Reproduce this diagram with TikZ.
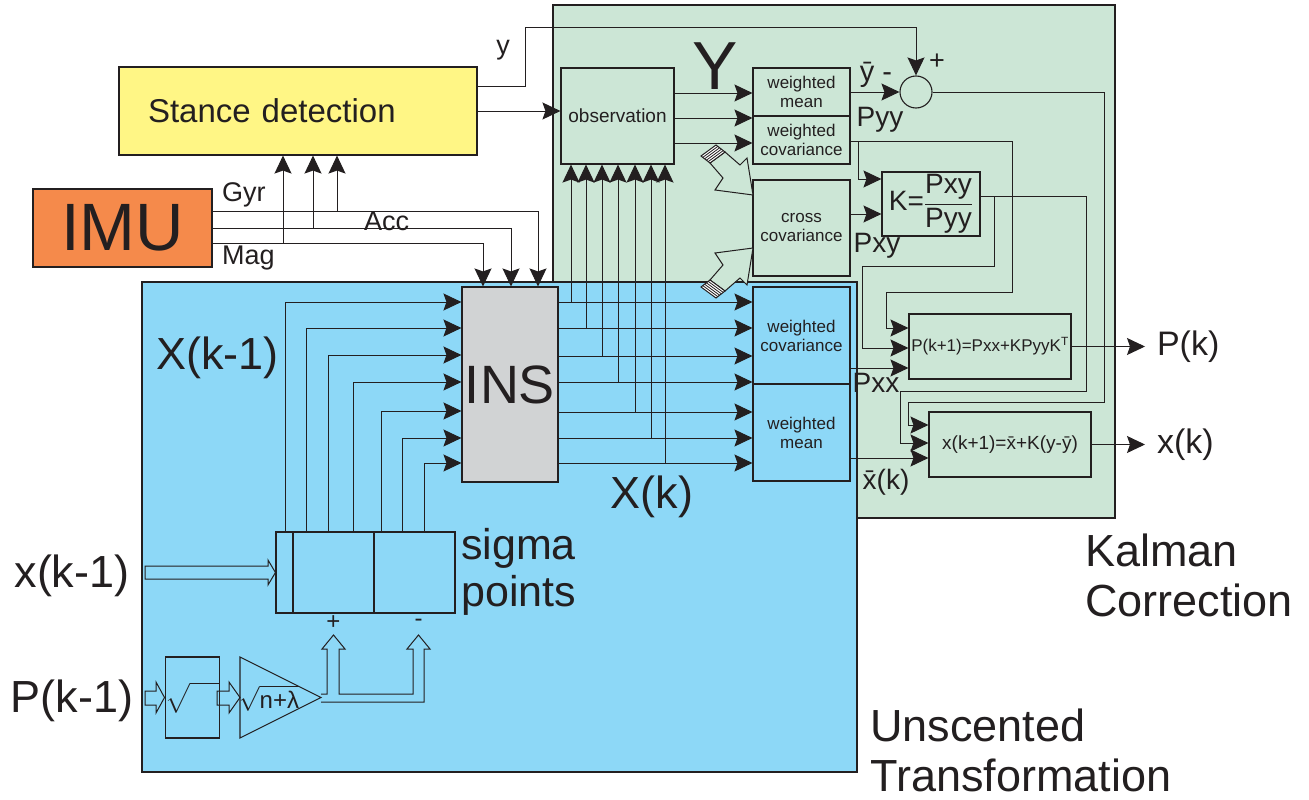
\documentclass[tikz,border=0pt]{standalone}
\usepackage{fontspec}
\setmainfont{Liberation Sans}
\usepackage{amsmath}
\usetikzlibrary{arrows.meta}

\definecolor{kalgreen}{HTML}{CCE6D6}
\definecolor{utblue}{HTML}{8DD8F7}
\definecolor{stanceyellow}{HTML}{FFF685}
\definecolor{imuorange}{HTML}{F58A4B}
\definecolor{insgray}{HTML}{D1D3D4}
\definecolor{ink}{HTML}{231F20}

\newcommand{\txtsize}[2]{\fontsize{#1}{#2}\selectfont}

\tikzset{
  blk/.style={draw=ink, line width=1.1pt, inner sep=0pt, align=center},
  lbl/.style={inner sep=0pt, align=left},
  wire/.style={draw=ink, line width=1pt},
  arr/.style={wire, -{Stealth[length=18pt, width=17pt, inset=3pt]}},
  pipe/.style={draw=ink, line width=1pt, line join=miter},
}

\begin{document}
\begin{tikzpicture}[x=1pt, y=-1pt, text=ink]
  \useasboundingbox (0,0) rectangle (1309,800);

  % panels
  \node[blk, fill=kalgreen, minimum width=562, minimum height=513] (kal) at (834,261.5) {};
  \node[blk, fill=utblue, minimum width=715, minimum height=490] (ut) at (499.5,527) {};

  % blocks
  \node[blk, fill=stanceyellow, minimum width=358, minimum height=88, text width=300,
        align=left, font=\txtsize{33}{36}] (stance) at (298,111) {Stance detection};
  \node[blk, fill=imuorange, minimum width=179, minimum height=78,
        font=\txtsize{67}{70}] (imu) at (122.5,228) {IMU};
  \node[blk, minimum width=113, minimum height=96, font=\txtsize{19}{21}] (obs) at (617.5,116) {observation};
  \node[blk, minimum width=97, minimum height=48, font=\txtsize{17}{19}] (wmY) at (801.5,92) {weighted\\mean};
  \node[blk, minimum width=97, minimum height=48, font=\txtsize{17}{19}] (wcY) at (801.5,140) {weighted\\covariance};
  \node[blk, minimum width=97, minimum height=96, font=\txtsize{17}{19}] (cross) at (801.5,228) {cross\\covariance};
  \node[blk, minimum width=98, minimum height=64, font=\txtsize{28}{30}] (kb) at (931,204)
       {K=$\dfrac{\text{Pxy}}{\text{Pyy}}$};
  \node[blk, circle, minimum size=32] (sum) at (916,92) {};
  \node[blk, minimum width=162, minimum height=65, font=\txtsize{17}{19}] (pb) at (990,346.5)
       {P(k+1)=Pxx+KPyyK\textsuperscript{T}};
  \node[blk, minimum width=162, minimum height=65, font=\txtsize{19}{21}] (xb) at (1010,444.5)
       {x(k+1)=\=x+K(y-\=y)};
  \node[blk, fill=insgray, minimum width=96, minimum height=195, font=\txtsize{54}{58}] (ins) at (510,384.5) {INS};
  \node[blk, minimum width=97, minimum height=97, font=\txtsize{17}{19}] (wcX) at (801.5,335.5) {weighted\\covariance};
  \node[blk, minimum width=97, minimum height=97, font=\txtsize{17}{19}] (wmX) at (801.5,432.5) {weighted\\mean};
  \node[blk, minimum width=179, minimum height=81] (sigma) at (365.5,572.5) {};
  \draw[blk] (sigma.north -| 293,0) -- (sigma.south -| 293,0);
  \draw[blk] (sigma.north -| 374,0) -- (sigma.south -| 374,0);
  \node[blk, minimum width=49, minimum height=81, font=\txtsize{24}{26}] (sqrtb) at (192.5,697.5)
       {$\sqrt{\vphantom{(}\hspace{30pt}}$};
  \draw[blk] (240,657) -- (240,738) -- (321,697.5) coordinate (gtip) -- cycle;
  \coordinate (gin) at (240,697.5);
  \node[lbl, font=\txtsize{24}{26}] (gainl) at (269,698) {$\sqrt{\text{n+λ}}$};

  % IMU and stance detection
  \coordinate (tapGyr) at (337,211);
  \coordinate (tapAcc) at (313,228);
  \coordinate (tapMag) at (283,243);
  \draw[arr] (imu.east |- tapGyr) -| (ins.north -| 538,0);
  \draw[arr] (imu.east |- tapAcc) -| (ins.north -| 511,0);
  \draw[arr] (imu.east |- tapMag) -| (ins.north -| 483,0);
  \foreach \tap in {tapGyr,tapAcc,tapMag}
    \draw[arr] (\tap) -- (stance.south -| \tap);
  \draw[arr] (stance.east |- 0,111) -- (obs.west |- 0,111);
  \draw[arr] (stance.east |- 0,86) -| (525,28) -| (sum.north);

  % sigma points into INS
  \foreach \xx/\yy in {285/302,306/328,328/355,353/382,381/411,402/438,424/463}
    \draw[arr] (sigma.north -| \xx,0) |- (ins.west |- 0,\yy);

  % INS outputs
  \foreach \yy in {302,328,356,382}
    \draw[arr] (ins.east |- 0,\yy) -- (wcX.west |- 0,\yy);
  \foreach \yy in {412,438,463}
    \draw[arr] (ins.east |- 0,\yy) -- (wmX.west |- 0,\yy);
  \foreach \xx/\yy in {571/302,586/328,602/356,618/382,635/412,651/438,665/463}
    \draw[arr] (\xx,\yy) -- (obs.south -| \xx,0);

  % observation outputs
  \draw[arr] (obs.east |- 0,93) -- (wmY.west |- 0,93);
  \draw[arr] (obs.east |- 0,118) -- (wcY.west |- 0,118);
  \draw[arr] (obs.east |- 0,143) -- (wcY.west |- 0,143);
  \draw[arr] (wmY.east) -- (sum.west);

  % Kalman gain and update
  \draw[arr] (wcY.east |- 0,141) -| (1012,292) -| (886,328) -- (pb.west |- 0,328);
  \draw[arr] (858,141) |- (kb.west |- 0,179);
  \draw[arr] (cross.east |- 0,214) -- (kb.west |- 0,214);
  \draw[arr] (kb.east |- 0,196) -| (1086,391) -| (900,443) -- (xb.west |- 0,443);
  \draw[arr] (994,196) |- (862,266) |- (pb.west |- 0,348);
  \draw[arr] (sum.east) -| (1104,402) -| (908,425) -- (xb.west |- 0,425);
  \draw[arr] (wcX.east |- 0,368) -- (pb.west |- 0,368);
  \draw[arr] (wmX.east |- 0,458) -- (xb.west |- 0,458);

  \node[lbl, font=\txtsize{34}{36}, anchor=west, outer xsep=12pt] (Pk) at (1145,346.5) {P(k)};
  \node[lbl, font=\txtsize{34}{36}, anchor=west, outer xsep=12pt] (xk) at (1145,444.5) {x(k)};
  \draw[arr] (pb.east) -- (Pk.west);
  \draw[arr] (xb.east) -- (xk.west);

  % hollow arrows into cross covariance
  \draw[pipe, fill=kalgreen] (725,152) -- (740,165) -- (747,158) -- (753,195) -- (715,190) -- (723,178) -- (710,163) -- cycle;
  \draw[pipe, fill=white] (701,156) -- (716,145) -- (725,152) -- (710,163) -- cycle;
  \foreach \t in {0.2,0.4,0.6,0.8}
    \draw[line width=0.8pt, ink] (701+9*\t,156+7*\t) -- (716+9*\t,145+7*\t);
  \draw[pipe, fill=kalgreen] (725,291) -- (740,278) -- (747,285) -- (753,248) -- (715,253) -- (723,265) -- (710,280) -- cycle;
  \draw[pipe, fill=white] (701,287) -- (716,298) -- (725,291) -- (710,280) -- cycle;
  \foreach \t in {0.2,0.4,0.6,0.8}
    \draw[line width=0.8pt, ink] (701+9*\t,287-7*\t) -- (716+9*\t,298-7*\t);

  % hollow arrows of the sigma point generation
  \draw[pipe] (145,566) -- (268,566) -- (268,560) -- (sigma.west) -- (268,585) -- (268,579) -- (145,579) -- cycle;
  \draw[pipe] (145,691) -- (156,691) -- (156,682) -- (sqrtb.west) -- (156,713) -- (156,705) -- (145,705) -- cycle;
  \draw[pipe] (217,691) -- (229,691) -- (229,682) -- (gin) -- (229,713) -- (229,705) -- (217,705) -- cycle;
  \draw[pipe] (gtip |- 0,694) -- (327,694) -- (327,649) -- (322,649) -- (333.5,635) -- (345,649) -- (339,649)
    -- (339,694) -- (413,694) -- (413,649) -- (407,649) -- (418.5,635) -- (430,649) -- (424,649)
    -- (424,702) -- (gtip |- 0,702);

  % labels
  \node[lbl, font=\txtsize{27}{30}, anchor=west] (gyr) at (222,195) {Gyr};
  \node[lbl, font=\txtsize{27}{30}, anchor=west] (acc) at (364,221) {Acc};
  \node[lbl, font=\txtsize{27}{30}, anchor=west] (mag) at (222,258) {Mag};
  \node[lbl, font=\txtsize{27}{30}] (ylbl) at (503,50) {y};
  \node[lbl, font=\txtsize{68}{72}] (Ylbl) at (715,66) {Y};
  \node[lbl, font=\txtsize{29}{31}] (ybar) at (876,75) {\=y -};
  \node[lbl, font=\txtsize{27}{30}] (plus) at (937,62) {+};
  \node[lbl, font=\txtsize{28}{30}] (pyy) at (880,120) {Pyy};
  \node[lbl, font=\txtsize{28}{30}] (pxy) at (877,246) {Pxy};
  \node[lbl, font=\txtsize{28}{30}] (pxx) at (876,383) {Pxx};
  \node[lbl, font=\txtsize{28}{30}] (xbar) at (886,482) {\=x(k)};
  \node[lbl, font=\txtsize{45}{50}] (Xkm) at (217.5,358) {X(k-1)};
  \node[lbl, font=\txtsize{45}{50}] (Xk) at (652,497) {X(k)};
  \node[lbl, font=\txtsize{45}{50}] (xkm) at (72,576) {x(k-1)};
  \node[lbl, font=\txtsize{45}{50}] (Pkm) at (72,701) {P(k-1)};
  \node[lbl, font=\txtsize{43}{47}, anchor=west] (sigl) at (461,572) {sigma\\points};
  \node[lbl, font=\txtsize{24}{26}] (plusl) at (333.5,623) {+};
  \node[lbl, font=\txtsize{24}{26}] (minusl) at (418.5,623) {-};
  \node[lbl, font=\txtsize{45}{50}, anchor=west] (kalt) at (1085,575) {Kalman\\Correction};
  \node[lbl, font=\txtsize{45}{50}, anchor=west] (utt) at (870,750) {Unscented\\Transformation};
\end{tikzpicture}
\end{document}
